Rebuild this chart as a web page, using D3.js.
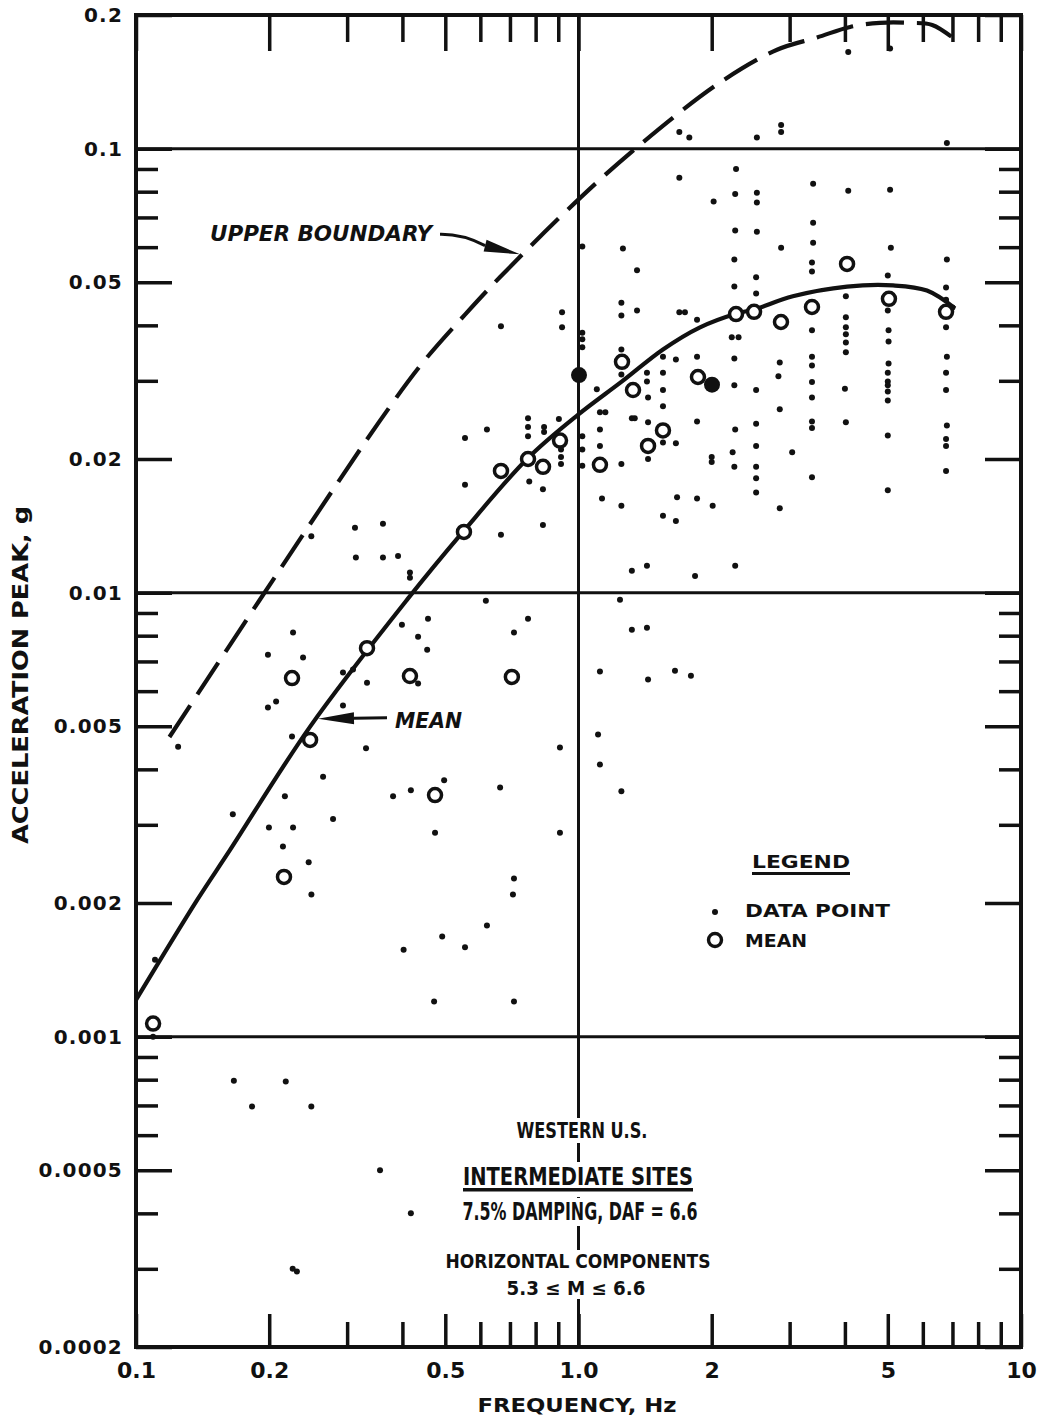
<!DOCTYPE html>
<html>
<head>
<meta charset="utf-8">
<script src="https://cdn.jsdelivr.net/npm/d3@7"></script>
<style>
  body { margin: 0; background: #fff; }
  #chart { width: 1038px; height: 1424px; }
</style>
</head>
<body>
<div id="chart"></div>
<script>
// ---- values (frequency in Hz, acceleration in g) ----

const xMajor = [0.1, 0.2, 0.5, 1, 2, 5, 10];
const xTickLabels = ["0.1", "0.2", "0.5", "1.0", "2", "5", "10"];
const xMinor = [0.3, 0.4, 0.6, 0.7, 0.8, 0.9, 3, 4, 6, 7, 8, 9];

const yMajor = [0.2, 0.1, 0.05, 0.02, 0.01, 0.005, 0.002, 0.001, 0.0005, 0.0002];
const yTickLabels = ["0.2", "0.1", "0.05", "0.02", "0.01", "0.005", "0.002", "0.001", "0.0005", "0.0002"];
const yMinor = [0.0003, 0.0004, 0.0006, 0.0007, 0.0008, 0.0009,
                0.003, 0.004, 0.006, 0.007, 0.008, 0.009,
                0.03, 0.04, 0.06, 0.07, 0.08, 0.09];

const gridX = [1];
const gridY = [0.1, 0.01, 0.001];

// solid "MEAN" curve
const meanCurve = [
  [0.1, 0.00121], [0.1374, 0.00203], [0.163, 0.00263], [0.247, 0.00498],
  [0.4095, 0.00963], [0.548, 0.0137], [0.769, 0.0201], [1.0, 0.0252],
  [1.254, 0.0299], [1.552, 0.0353], [1.882, 0.0396], [2.27, 0.0425],
  [2.49, 0.0434], [3.05, 0.0465], [4.045, 0.0489], [5.14, 0.0492],
  [6.13, 0.0479], [7.09, 0.0437]
];

// dashed "UPPER BOUNDARY" curve
const upperCurve = [
  [0.119, 0.00473], [0.19, 0.0096], [0.356, 0.0244], [0.445, 0.033],
  [0.554, 0.0423], [0.665, 0.0514], [0.98, 0.0754], [1.36, 0.101],
  [2.09, 0.141], [2.81, 0.167], [3.46, 0.178], [4.11, 0.188],
  [4.8, 0.192], [5.6, 0.192], [6.3, 0.19], [7.0, 0.178]
];

// open circles (means)
const meanPoints = [
  [0.1093, 0.00107], [0.216, 0.00229], [0.2252, 0.00642], [0.2474, 0.00466],
  [0.3327, 0.0075], [0.416, 0.00649], [0.474, 0.0035], [0.551, 0.0137],
  [0.668, 0.0188], [0.707, 0.00646], [0.769, 0.02], [0.8314, 0.0192],
  [0.9083, 0.022], [1.118, 0.0194], [1.254, 0.0331], [1.328, 0.0286],
  [1.436, 0.0214], [1.552, 0.0232], [1.862, 0.0306], [2.27, 0.0424],
  [2.493, 0.0429], [2.868, 0.0407], [3.37, 0.044], [4.045, 0.055],
  [5.03, 0.0459], [6.77, 0.0429]
];

// means that print as solid blobs
const meanFilled = [[1.0026, 0.0309], [2.003, 0.0294]];

// small dots (individual records)
const dataPoints = [
  [4.07, 0.165], [5.06, 0.168], [2.53, 0.106], [2.87, 0.113], [2.87, 0.109], [6.8, 0.103],
  [1.69, 0.109], [1.78, 0.106], [2.27, 0.090], [1.69, 0.086], [2.02, 0.076], [2.26, 0.079],
  [2.53, 0.0796], [2.53, 0.0756], [3.39, 0.0834], [4.07, 0.0804], [5.06, 0.0808],
  [2.26, 0.0654], [2.53, 0.065], [3.39, 0.0681], [3.39, 0.0614], [2.87, 0.0598], [5.08, 0.0598],
  [1.26, 0.0596], [1.02, 0.0602], [2.25, 0.0563], [2.52, 0.0513], [2.25, 0.0489], [2.52, 0.0472],
  [3.37, 0.0554], [3.37, 0.0529], [1.356, 0.0532], [1.25, 0.045], [1.25, 0.0421], [1.356, 0.0432],
  [1.69, 0.0428], [1.74, 0.0428], [1.853, 0.0412], [0.668, 0.0398], [0.918, 0.0428], [0.918, 0.0396],
  [1.02, 0.0385], [1.02, 0.0372], [1.02, 0.0357],
  [4.02, 0.0465], [4.02, 0.0417], [4.02, 0.0396], [4.02, 0.0382], [4.02, 0.0366], [4.02, 0.0348],
  [4.0, 0.0288], [4.02, 0.0242],
  [5.0, 0.0518], [5.0, 0.0432], [5.02, 0.039], [5.02, 0.0368], [5.02, 0.0328], [5.0, 0.0313],
  [5.0, 0.0299], [5.0, 0.0293], [5.0, 0.0284], [5.0, 0.0271], [5.0, 0.0226], [5.0, 0.017],
  [6.8, 0.0563], [6.77, 0.0487], [6.77, 0.0457], [7.0, 0.0439], [6.77, 0.0396], [6.8, 0.034],
  [6.77, 0.0313], [6.77, 0.0286], [6.8, 0.0238], [6.77, 0.0222], [6.77, 0.0214], [6.77, 0.0188],
  [3.37, 0.039], [3.37, 0.034], [3.37, 0.0325], [3.37, 0.0298], [3.37, 0.0275], [3.37, 0.0243],
  [3.37, 0.0235], [3.37, 0.0182],
  [2.85, 0.033], [2.83, 0.0307], [2.85, 0.0259], [2.85, 0.0155], [3.04, 0.0207],
  [2.52, 0.0286], [2.52, 0.024], [2.52, 0.0214], [2.52, 0.0192], [2.52, 0.0181], [2.52, 0.0168],
  [2.25, 0.0337], [2.22, 0.0376], [2.3, 0.0376], [2.25, 0.0293], [2.26, 0.0233], [2.23, 0.0207],
  [2.25, 0.0192], [2.26, 0.0115],
  [1.853, 0.034], [1.853, 0.0243], [1.853, 0.0163], [1.834, 0.0109],
  [2.0, 0.0202], [2.0, 0.0197], [2.01, 0.0157],
  [1.66, 0.0335], [1.66, 0.0217], [1.67, 0.0164], [1.66, 0.0145],
  [1.552, 0.034], [1.552, 0.0313], [1.552, 0.0286], [1.552, 0.0263], [1.552, 0.0218], [1.552, 0.0149],
  [1.428, 0.0313], [1.428, 0.0299], [1.436, 0.0275], [1.436, 0.0242], [1.436, 0.02], [1.428, 0.0115],
  [1.32, 0.0112], [1.32, 0.0247], [1.34, 0.0247],
  [1.25, 0.0353], [1.25, 0.031], [1.25, 0.0195], [1.25, 0.0157],
  [1.118, 0.0255], [1.15, 0.0255], [1.118, 0.0233], [1.118, 0.0214], [1.13, 0.0163], [1.10, 0.0287],
  [1.02, 0.0225], [1.02, 0.021], [1.02, 0.0193],
  [0.913, 0.021], [0.913, 0.0202], [0.913, 0.0195], [0.903, 0.0246],
  [0.769, 0.0247], [0.769, 0.0236], [0.769, 0.0225], [0.836, 0.0236], [0.836, 0.023],
  [0.774, 0.0178], [0.831, 0.0171],
  [0.621, 0.0233], [0.554, 0.0223], [0.554, 0.0175], [0.668, 0.0135], [0.831, 0.0142],
  [0.3615, 0.0143], [0.391, 0.0121], [0.416, 0.0111], [0.416, 0.0108], [0.3125, 0.014],
  [0.314, 0.012], [0.3615, 0.012], [0.249, 0.0134],
  [0.2264, 0.00813], [0.1987, 0.00725], [0.2385, 0.00714], [0.2936, 0.00661], [0.3093, 0.00671],
  [0.3327, 0.00627], [0.1987, 0.00551], [0.2073, 0.00569], [0.2936, 0.00557],
  [0.399, 0.00847], [0.457, 0.00874], [0.434, 0.00796], [0.455, 0.00744], [0.434, 0.00624],
  [0.1245, 0.0045], [0.2252, 0.00474], [0.331, 0.00446], [0.2647, 0.00385], [0.217, 0.00348],
  [0.1655, 0.00317], [0.1997, 0.00296], [0.2264, 0.00296], [0.2788, 0.00309], [0.2148, 0.00268],
  [0.2456, 0.00247], [0.381, 0.00348], [0.418, 0.00359], [0.497, 0.00378], [0.474, 0.00288],
  [0.2491, 0.00209], [0.7148, 0.00227], [0.711, 0.00209], [0.621, 0.00178], [0.492, 0.00168],
  [0.554, 0.00159], [0.4025, 0.00157], [0.4717, 0.0012], [0.7148, 0.0012], [0.1104, 0.00149],
  [0.1093, 0.001],
  [0.6175, 0.00959], [0.7148, 0.00813], [0.769, 0.00874], [0.908, 0.00448], [0.908, 0.00288],
  [0.665, 0.00364],
  [1.241, 0.00964], [1.32, 0.00825], [1.428, 0.00834], [1.118, 0.00664], [1.436, 0.00637],
  [1.652, 0.00667], [1.795, 0.0065], [1.107, 0.00479], [1.118, 0.0041], [1.25, 0.00357],
  [0.1664, 0.000796], [0.1829, 0.000696], [0.218, 0.000792], [0.249, 0.000696],
  [0.356, 0.0005], [0.418, 0.0004], [0.226, 0.0003], [0.231, 0.000296]
];

// ---- the svg ----

const width = 1038, height = 1424;
const margin = {top: 15, right: 17, bottom: 77, left: 136};
const ink = "#111";

const svg = d3.select("#chart")
  .append("svg")
  .attr("width", width)
  .attr("height", height)
  .style("font-family", "'DejaVu Sans', sans-serif");

svg.append("rect").attr("width", width).attr("height", height).attr("fill", "#fff");

const x = d3.scaleLog().domain([0.1, 10]).range([margin.left, width - margin.right]);
const y = d3.scaleLog().domain([0.0002, 0.2]).range([height - margin.bottom, margin.top]);

const x0 = x.range()[0], x1 = x.range()[1];
const y0 = y.range()[0], y1 = y.range()[1];

// grid lines at the decades
svg.append("g")
  .selectAll("line")
  .data(gridY)
  .join("line")
    .attr("x1", x0).attr("x2", x1)
    .attr("y1", d => y(d)).attr("y2", d => y(d))
    .attr("stroke", ink).attr("stroke-width", 3);

svg.append("g")
  .selectAll("line")
  .data(gridX)
  .join("line")
    .attr("x1", d => x(d)).attr("x2", d => x(d))
    .attr("y1", y1).attr("y2", y0)
    .attr("stroke", ink).attr("stroke-width", 3);

// ticks, all pointing into the plot
function styleAxis(g) {
  g.select(".domain").remove();
  g.selectAll(".tick line").attr("stroke", ink).attr("stroke-width", 3.5);
  g.selectAll(".tick text").attr("fill", ink).attr("font-weight", "bold");
}

svg.append("g")
  .attr("transform", `translate(0,${y0})`)
  .call(d3.axisBottom(x).tickValues(xMajor).tickSize(-33).tickPadding(15)
    .tickFormat((d, i) => xTickLabels[i]))
  .call(styleAxis)
  .call(g => g.selectAll(".tick text").attr("font-size", 22).attr("font-family", "'DejaVu Sans', sans-serif"));

svg.append("g")
  .attr("transform", `translate(0,${y0})`)
  .call(d3.axisBottom(x).tickValues(xMinor).tickSize(-25).tickFormat(""))
  .call(styleAxis);

svg.append("g")
  .attr("transform", `translate(0,${y1})`)
  .call(d3.axisTop(x).tickValues(xMajor).tickSize(-36).tickFormat(""))
  .call(styleAxis);

svg.append("g")
  .attr("transform", `translate(0,${y1})`)
  .call(d3.axisTop(x).tickValues(xMinor).tickSize(-27).tickFormat(""))
  .call(styleAxis);

svg.append("g")
  .attr("transform", `translate(${x0},0)`)
  .call(d3.axisLeft(y).tickValues(yMajor).tickSize(-36).tickPadding(13)
    .tickFormat((d, i) => yTickLabels[i]))
  .call(styleAxis)
  .call(g => g.selectAll(".tick text")
    .attr("font-size", 20).attr("letter-spacing", 1.2)
    .attr("font-family", "'DejaVu Sans', sans-serif"));

svg.append("g")
  .attr("transform", `translate(${x0},0)`)
  .call(d3.axisLeft(y).tickValues(yMinor).tickSize(-22).tickFormat(""))
  .call(styleAxis);

svg.append("g")
  .attr("transform", `translate(${x1},0)`)
  .call(d3.axisRight(y).tickValues(yMajor).tickSize(-36).tickFormat(""))
  .call(styleAxis);

svg.append("g")
  .attr("transform", `translate(${x1},0)`)
  .call(d3.axisRight(y).tickValues(yMinor).tickSize(-22).tickFormat(""))
  .call(styleAxis);

// frame
svg.append("rect")
  .attr("x", x0).attr("y", y1)
  .attr("width", x1 - x0).attr("height", y0 - y1)
  .attr("fill", "none").attr("stroke", ink).attr("stroke-width", 4);

// curves
const line = d3.line()
  .x(d => x(d[0]))
  .y(d => y(d[1]))
  .curve(d3.curveCatmullRom.alpha(0.5));

svg.append("path")
  .datum(upperCurve)
  .attr("d", line)
  .attr("fill", "none").attr("stroke", ink)
  .attr("stroke-width", 4.2)
  .attr("stroke-dasharray", "38,13");

svg.append("path")
  .datum(meanCurve)
  .attr("d", line)
  .attr("fill", "none").attr("stroke", ink)
  .attr("stroke-width", 4.2);

// data points
svg.append("g")
  .selectAll("circle")
  .data(dataPoints)
  .join("circle")
    .attr("cx", d => x(d[0]))
    .attr("cy", d => y(d[1]))
    .attr("r", 3)
    .attr("fill", ink);

svg.append("g")
  .selectAll("circle")
  .data(meanPoints)
  .join("circle")
    .attr("cx", d => x(d[0]))
    .attr("cy", d => y(d[1]))
    .attr("r", 6.5)
    .attr("fill", "#fff")
    .attr("stroke", ink)
    .attr("stroke-width", 3.5);

svg.append("g")
  .selectAll("circle")
  .data(meanFilled)
  .join("circle")
    .attr("cx", d => x(d[0]))
    .attr("cy", d => y(d[1]))
    .attr("r", 8)
    .attr("fill", ink);

// ---- labels ----

function label(txt, px, py, opts) {
  const t = svg.append("text")
    .attr("x", px).attr("y", py)
    .attr("fill", ink)
    .attr("font-weight", "bold")
    .attr("font-size", opts.size)
    .attr("text-anchor", opts.anchor || "start")
    .text(txt);
  if (opts.family) t.attr("font-family", opts.family);
  if (opts.italic) t.attr("font-style", "italic");
  if (opts.len) t.attr("textLength", opts.len).attr("lengthAdjust", "spacingAndGlyphs");
  if (opts.rotate) t.attr("transform", `rotate(${opts.rotate},${px},${py})`);
  return t;
}

const narrow = "'DejaVu Sans Condensed', 'Liberation Sans Narrow', 'DejaVu Sans', sans-serif";

// axis titles
label("ACCELERATION PEAK, g", 28, 675, {size: 21, anchor: "middle", family: narrow, len: 338, rotate: -90});
label("FREQUENCY, Hz", 577, 1412, {size: 20, anchor: "middle", len: 199});

// arrows for the two curve labels
function arrow(tail, tip, headLen, headW, bend) {
  const dx = tip[0] - tail[0], dy = tip[1] - tail[1];
  const L = Math.hypot(dx, dy);
  const ux = dx / L, uy = dy / L;
  const base = [tip[0] - ux * headLen, tip[1] - uy * headLen];
  const p = d3.path();
  p.moveTo(tail[0], tail[1]);
  p.quadraticCurveTo((tail[0] + base[0]) / 2, (tail[1] + base[1]) / 2 - bend, base[0], base[1]);
  svg.append("path").attr("d", p.toString())
    .attr("fill", "none").attr("stroke", ink).attr("stroke-width", 3);
  svg.append("path")
    .attr("d", `M${tip[0]},${tip[1]}L${base[0] - uy * headW},${base[1] + ux * headW}` +
               `L${base[0] + uy * headW},${base[1] - ux * headW}Z`)
    .attr("fill", ink);
}

const upperTip = [x(0.7376), y(0.0578)];
arrow([upperTip[0] - 80, upperTip[1] - 20], upperTip, 36, 6, 6);
label("UPPER BOUNDARY", upperTip[0] - 310, upperTip[1] - 13, {size: 22, italic: true, len: 222});

const meanTip = [x(0.2578), y(0.0052)];
arrow([meanTip[0] + 69, meanTip[1] - 1], meanTip, 36, 6, 0);
label("MEAN", meanTip[0] + 77, meanTip[1] + 9, {size: 21, italic: true, len: 67});

// legend
label("LEGEND", 752, 868, {size: 18, len: 98});
svg.append("rect").attr("x", 752).attr("y", 872).attr("width", 98).attr("height", 3).attr("fill", ink);
svg.append("circle").attr("cx", 715).attr("cy", 912).attr("r", 3).attr("fill", ink);
label("DATA POINT", 745, 917, {size: 17, len: 145});
svg.append("circle").attr("cx", 715).attr("cy", 940).attr("r", 6.5)
  .attr("fill", "#fff").attr("stroke", ink).attr("stroke-width", 3.4);
label("MEAN", 745, 947, {size: 17, len: 62});

// description block, each line masks the grid line behind it
function boxed(txt, px, py, opts) {
  const g = svg.append("g");
  const r = g.append("rect").attr("fill", "#fff");
  const t = label(txt, px, py, opts);
  g.node().appendChild(t.node());
  const b = t.node().getBBox();
  r.attr("x", b.x - 4).attr("y", b.y - (opts.padTop || 0))
    .attr("width", b.width + 8).attr("height", b.height + (opts.padTop || 0) + (opts.padBottom || 0));
  return t;
}

boxed("WESTERN U.S.", 582, 1138, {size: 22, anchor: "middle", family: narrow, len: 131});
boxed("INTERMEDIATE SITES", 578, 1185, {size: 25, anchor: "middle", family: narrow, len: 230, padBottom: 6});
svg.append("rect").attr("x", 463).attr("y", 1188).attr("width", 230).attr("height", 3.5).attr("fill", ink);
boxed("7.5% DAMPING, DAF = 6.6", 580, 1220, {size: 24, anchor: "middle", family: narrow, len: 235});
boxed("HORIZONTAL COMPONENTS", 578, 1268, {size: 19, anchor: "middle", len: 265, padBottom: 6});
boxed("5.3 \u2264 M \u2264 6.6", 576, 1295, {size: 19, anchor: "middle", len: 139, padTop: 4});
</script>
</body>
</html>
